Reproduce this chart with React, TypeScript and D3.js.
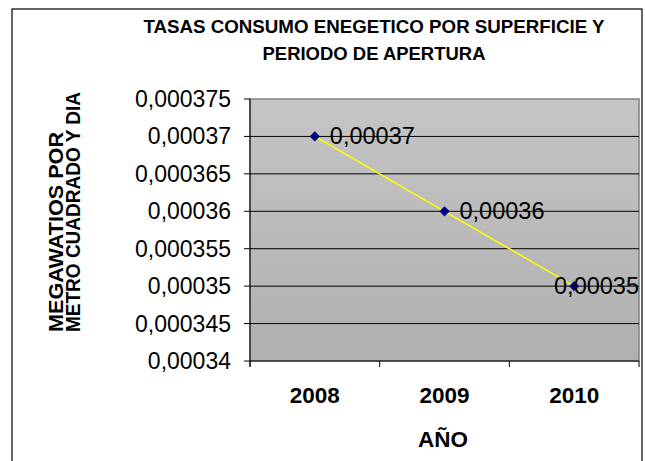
import * as d3 from "d3";

const years = ["2008", "2009", "2010"];
const rates = [0.00037, 0.00036, 0.00035];
const yTickValues = [0.00034, 0.000345, 0.00035, 0.000355, 0.00036, 0.000365, 0.00037, 0.000375];
const titleLines = ["TASAS CONSUMO ENEGETICO POR SUPERFICIE Y", "PERIODO DE APERTURA"];
const yTitleLines = ["MEGAWATIOS POR", "METRO CUADRADO Y DIA"];
const xTitle = "AÑO";

const width = 645;
const height = 461;
const plot = { left: 250, right: 639, top: 99, bottom: 361 };
const font = "'Liberation Sans', Arial, sans-serif";

const locale = d3.formatLocale({ decimal: ",", thousands: ".", grouping: [3], currency: ["", "€"] });
const fmt = locale.format(".6~f");

// measured text widths in the reference
const titleLengths = [461, 223];
const yTitleLengths = [200, 240];

export default function App() {
  const x = d3.scaleBand().domain(years).range([plot.left, plot.right]).padding(0);
  const y = d3.scaleLinear().domain([0.00034, 0.000375]).range([plot.bottom, plot.top]);
  const bw = x.bandwidth();

  const points = years.map((yr, i) => ({
    yr,
    v: rates[i],
    px: (x(yr) ?? 0) + bw / 2,
    py: y(rates[i]),
  }));

  const line = d3
    .line<{ px: number; py: number }>()
    .x((d) => d.px)
    .y((d) => d.py);

  // square rotated 45° -> regular diamond marker
  const marker = d3.symbol().type(d3.symbolSquare).size(52)();
  const labelSize = 23.5;
  const xTickPos = [...years.map((yr) => x(yr) ?? 0), plot.right];

  return (
    <svg
      width={width}
      height={height}
      style={{ position: "absolute", left: 0, top: 0, fontFamily: font }}
    >
      <defs>
        <linearGradient id="bg" x1="0" y1="0" x2="0" y2="1">
          <stop offset="0%" stopColor="#c5c5c5" />
          <stop offset="100%" stopColor="#b0b0b0" />
        </linearGradient>
      </defs>
      <rect x={0} y={0} width={width} height={height} fill="#fff" />
      <rect x={12} y={9} width={630} height={470} fill="none" stroke="#000" strokeWidth={1.2} />

      {/* title */}
      {titleLines.map((t, i) => (
        <text
          key={i}
          x={374}
          y={33 + i * 27}
          textAnchor="middle"
          fontWeight="bold"
          fontSize={19}
          textLength={titleLengths[i]}
          lengthAdjust="spacingAndGlyphs"
        >
          {t}
        </text>
      ))}

      {/* plot area */}
      <rect
        x={plot.left}
        y={plot.top}
        width={plot.right - plot.left}
        height={plot.bottom - plot.top}
        fill="url(#bg)"
        stroke="#808080"
        strokeWidth={1.5}
      />
      {yTickValues.slice(1, -1).map((t) => (
        <line key={t} x1={plot.left} x2={plot.right} y1={y(t)} y2={y(t)} stroke="#000" strokeWidth={1} />
      ))}

      {/* y axis */}
      <line x1={plot.left} x2={plot.left} y1={plot.top} y2={plot.bottom + 6} stroke="#000" />
      {yTickValues.map((t) => (
        <g key={t}>
          <line x1={plot.left - 6} x2={plot.left} y1={y(t)} y2={y(t)} stroke="#000" />
          <text x={231} y={y(t)} textAnchor="end" dominantBaseline="central" fontSize={23}>
            {fmt(t)}
          </text>
        </g>
      ))}

      {/* x axis */}
      <line x1={plot.left} x2={plot.right} y1={plot.bottom} y2={plot.bottom} stroke="#000" />
      {xTickPos.map((p, i) => (
        <line key={i} x1={p} x2={p} y1={plot.bottom} y2={plot.bottom + 6} stroke="#000" />
      ))}
      {years.map((yr) => (
        <text key={yr} x={(x(yr) ?? 0) + bw / 2} y={403} textAnchor="middle" fontWeight="bold" fontSize={22.5}>
          {yr}
        </text>
      ))}
      <text x={443} y={447} textAnchor="middle" fontWeight="bold" fontSize={22.5}>
        {xTitle}
      </text>

      {/* y title */}
      {yTitleLines.map((t, i) => (
        <text
          key={i}
          transform={`translate(${63 + i * 17},332) rotate(-90)`}
          textAnchor="start"
          fontWeight="bold"
          fontSize={21}
          textLength={yTitleLengths[i]}
          lengthAdjust="spacingAndGlyphs"
        >
          {t}
        </text>
      ))}

      {/* series */}
      <path d={line(points) ?? ""} fill="none" stroke="#ffff00" strokeWidth={1.5} />
      {points.map((p) => (
        <path
          key={p.yr}
          d={marker ?? ""}
          transform={`translate(${p.px},${p.py}) rotate(45)`}
          fill="#000080"
        />
      ))}
      {points.map((p) => {
        const label = fmt(p.v);
        const est = label.length * 0.53 * labelSize;
        const overflow = p.px + 15 + est > plot.right;
        return (
          <text
            key={p.yr}
            x={overflow ? plot.right : p.px + 15}
            y={p.py}
            textAnchor={overflow ? "end" : "start"}
            dominantBaseline="central"
            fontSize={labelSize}
          >
            {label}
          </text>
        );
      })}
    </svg>
  );
}
